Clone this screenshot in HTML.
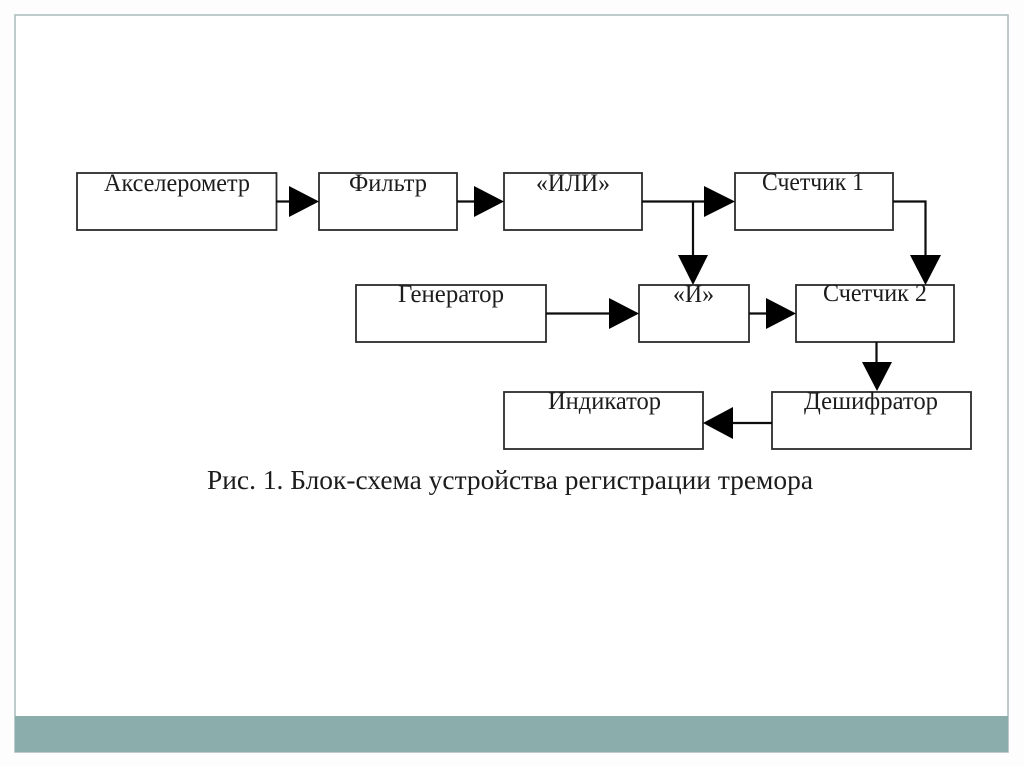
<!DOCTYPE html>
<html><head><meta charset="utf-8"><style>
html,body{margin:0;padding:0;background:#fff;width:1024px;height:767px;overflow:hidden}
svg{display:block}
text{font-family:"Liberation Serif",serif;font-size:25px;fill:#1c1c1c}
.b{fill:#fff;stroke:#2a2a2a;stroke-width:1.8}
.l{stroke:#111;stroke-width:2.2;fill:none}
</style></head><body>
<svg width="1024" height="767" viewBox="0 0 1024 767" xmlns="http://www.w3.org/2000/svg">
<defs><filter id="s" filterUnits="userSpaceOnUse" x="0" y="0" width="1024" height="767"><feGaussianBlur stdDeviation="0.35"/></filter></defs>
<rect width="1024" height="767" fill="#fdfdfd"/>
<rect x="15" y="15" width="993" height="737" fill="#fff" stroke="#aebfc0" stroke-width="1.6"/>
<rect x="15" y="716" width="993" height="36" fill="#8badab"/>
<g filter="url(#s)">
<rect class="b" x="77" y="173" width="199.500" height="57"/>
<rect class="b" x="319" y="173" width="138" height="57"/>
<rect class="b" x="504" y="173" width="138" height="57"/>
<rect class="b" x="735" y="173" width="158" height="57"/>
<rect class="b" x="356" y="285" width="190" height="57"/>
<rect class="b" x="639" y="285" width="110" height="57"/>
<rect class="b" x="796" y="285" width="158" height="57"/>
<rect class="b" x="504" y="392" width="199" height="57"/>
<rect class="b" x="772" y="392" width="199" height="57"/>

<path class="l" d="M276 201.500H295M457 201.500H480M642 201.500H710M693 201.500V260M893 201.500H925.500V260M546 313.500H615M749 313.500H772M876.500 342V367M772 423H728"/>
<path fill="#000" d="M289 186L319 201.500L289 217ZM474 186L504 201.500L474 217ZM704 186L735 201.500L704 217ZM678 255H708L693 285ZM910 255H941L925.500 285ZM609 298L639 313.500L609 329ZM766 298L796 313.500L766 329ZM862 362H892L877 391ZM733 407V439L703 423Z"/>

<text x="104" y="191" textLength="146" lengthAdjust="spacingAndGlyphs">Акселерометр</text>
<text x="349" y="191" textLength="78" lengthAdjust="spacingAndGlyphs">Фильтр</text>
<text x="536" y="191" textLength="74" lengthAdjust="spacingAndGlyphs">«ИЛИ»</text>
<text x="762" y="190" textLength="102" lengthAdjust="spacingAndGlyphs">Счетчик 1</text>
<text x="398" y="302" textLength="106" lengthAdjust="spacingAndGlyphs">Генератор</text>
<text x="673" y="302" textLength="41" lengthAdjust="spacingAndGlyphs">«И»</text>
<text x="823" y="301" textLength="104" lengthAdjust="spacingAndGlyphs">Счетчик 2</text>
<text x="548" y="409" textLength="113" lengthAdjust="spacingAndGlyphs">Индикатор</text>
<text x="804" y="409" textLength="134" lengthAdjust="spacingAndGlyphs">Дешифратор</text>
<text x="207" y="489" textLength="606" lengthAdjust="spacingAndGlyphs" style="font-size:27px">Рис. 1. Блок-схема устройства регистрации тремора</text>
</g>
</svg>
</body></html>
